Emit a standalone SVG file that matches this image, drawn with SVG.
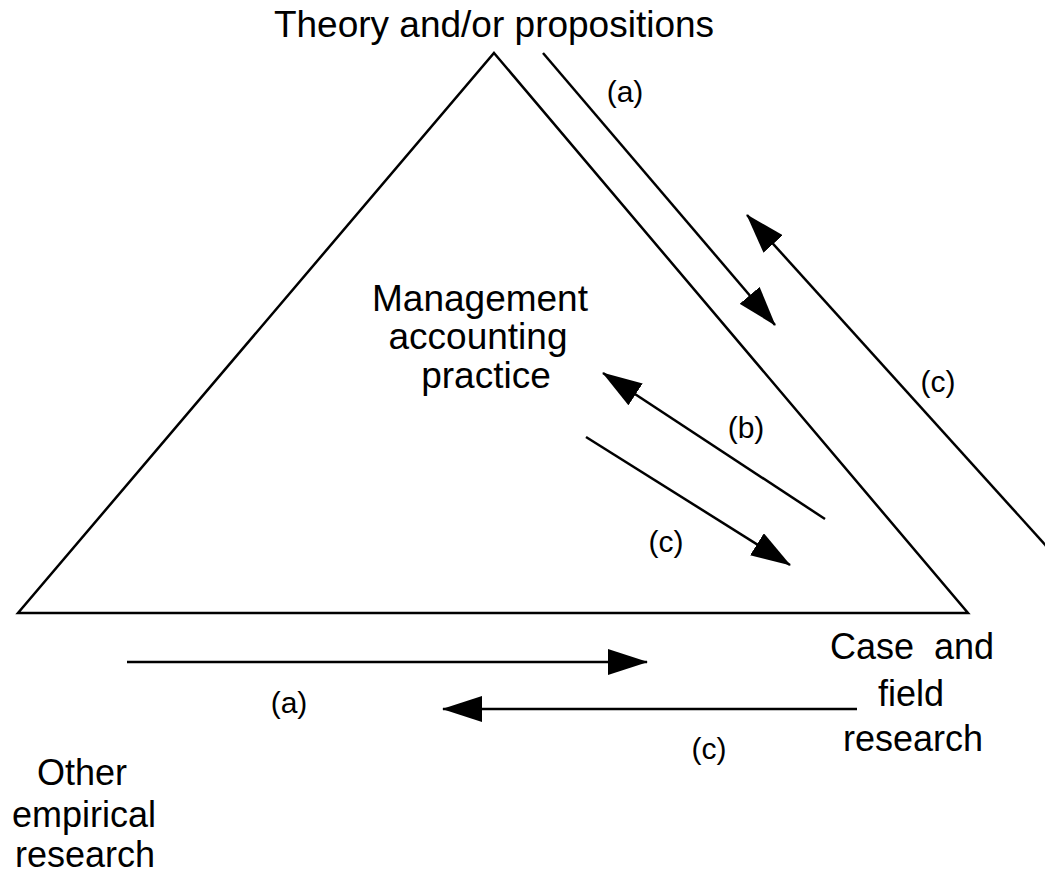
<svg xmlns="http://www.w3.org/2000/svg" width="1045" height="876" viewBox="0 0 1045 876">
  <defs>
    <style>
      .lbl { font-family: "Liberation Sans", Arial, sans-serif; fill: #000; }
      .big { font-size: 37px; }
      .mid { font-size: 36px; }
      .tag { font-size: 30px; }
      .ln { stroke: #000; stroke-width: 2.5; fill: none; }
    </style>
    <marker id="head" viewBox="0 0 40 26" refX="39" refY="13" markerWidth="40" markerHeight="26" markerUnits="userSpaceOnUse" orient="auto">
      <path d="M0,0 L40,13 L0,26 Z" fill="#000"/>
    </marker>
  </defs>
  <rect width="1045" height="876" fill="#fff"/>

  <!-- central triangle -->
  <g id="triangle">
    <path class="ln" d="M494,53 L968,613 L18,613 Z" stroke-linejoin="miter"/>
  </g>

  <g id="theory">
    <text class="lbl big" x="494" y="37" text-anchor="middle">Theory and/or propositions</text>
  </g>

  <g id="practice">
    <text class="lbl big" x="480" y="311" text-anchor="middle">Management</text>
    <text class="lbl big" x="478" y="349" text-anchor="middle">accounting</text>
    <text class="lbl big" x="486" y="388" text-anchor="middle">practice</text>
  </g>

  <g id="case-field">
    <text class="lbl mid" x="912" y="659" text-anchor="middle" xml:space="preserve">Case  and</text>
    <text class="lbl mid" x="911" y="706" text-anchor="middle">field</text>
    <text class="lbl mid" x="913" y="751" text-anchor="middle">research</text>
  </g>

  <g id="other-empirical">
    <text class="lbl mid" x="82" y="785" text-anchor="middle">Other</text>
    <text class="lbl mid" x="84" y="827" text-anchor="middle">empirical</text>
    <text class="lbl mid" x="85" y="867" text-anchor="middle">research</text>
  </g>

  <!-- connectors -->
  <g id="connectors">
    <line class="ln" x1="543" y1="53" x2="775" y2="325" marker-end="url(#head)"/>
    <line class="ln" x1="1049" y1="549" x2="747" y2="215" marker-end="url(#head)"/>
    <line class="ln" x1="825" y1="519" x2="603" y2="373" marker-end="url(#head)"/>
    <line class="ln" x1="586" y1="437" x2="790" y2="565" marker-end="url(#head)"/>
    <line class="ln" x1="127" y1="662" x2="647" y2="662" marker-end="url(#head)"/>
    <line class="ln" x1="857" y1="709" x2="443" y2="709" marker-end="url(#head)"/>
  </g>

  <g id="labels">
    <text class="lbl tag" x="625" y="102" text-anchor="middle">(a)</text>
    <text class="lbl tag" x="746" y="438" text-anchor="middle">(b)</text>
    <text class="lbl tag" x="666" y="552" text-anchor="middle">(c)</text>
    <text class="lbl tag" x="938" y="392" text-anchor="middle">(c)</text>
    <text class="lbl tag" x="289" y="713" text-anchor="middle">(a)</text>
    <text class="lbl tag" x="709" y="759" text-anchor="middle">(c)</text>
  </g>
</svg>
